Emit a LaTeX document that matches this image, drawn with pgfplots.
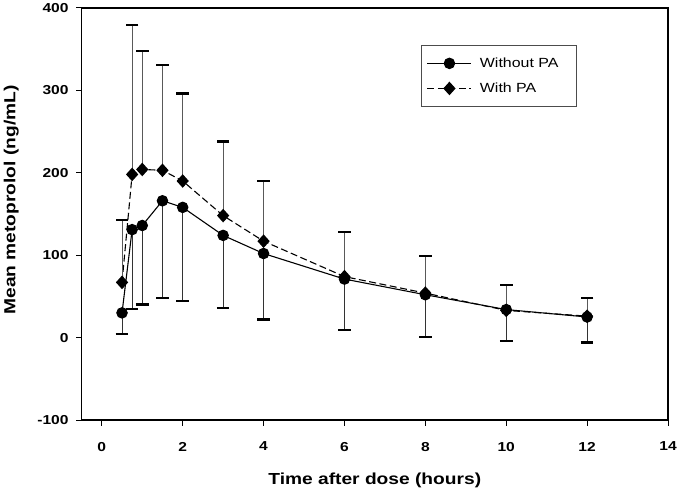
\documentclass[border=0pt]{standalone}
\usepackage{fontspec}
\setmainfont{Liberation Sans}[FakeStretch=1.2]
\usepackage{pgfplots}
\usepackage{pgfplotstable}
\pgfplotsset{compat=1.18}

\pgfdeclareplotmark{cap}{%
  \pgfsetlinewidth{2.3pt}%
  \pgfpathmoveto{\pgfqpoint{-\pgfplotmarksize}{0pt}}%
  \pgfpathlineto{\pgfqpoint{\pgfplotmarksize}{0pt}}%
  \pgfusepathqstroke}

\pgfplotstableread{
t y e
0.5 30 26
0.75 131 96
1 136 96
1.5 166 118
2 158 114
3 124 88
4 102 80
6 71 62
8 52 51
10 34 38
12 25 31
}\withoutpa

\pgfplotstableread{
t y e
0.5 67 76
0.75 198 181
1 204 144
1.5 203 128
2 190 106
3 148 90
4 117 73
6 74 54
8 54 45
10 33 31
12 26 22
}\withpa

\begin{document}
\begin{tikzpicture}
\begin{axis}[
  at={(0pt,0pt)}, anchor=south west,
  scale only axis, width=587.3pt, height=412.7pt,
  xmin=-0.5, xmax=14, ymin=-100, ymax=400,
  xtick={0,2,...,14}, ytick={-100,0,...,400},
  tick align=outside, xtick pos=bottom, ytick pos=left,
  major tick length=5.5pt,
  axis line style={line width=1.3pt},
  every tick/.style={line width=1pt, black},
  tick label style={font=\fontsize{13}{13}\selectfont\bfseries},
  xticklabel style={yshift=-13pt},
  yticklabel style={xshift=-4pt},
  /pgf/number format/assume math mode=true,
  xlabel={Time after dose (hours)},
  ylabel={Mean metoprolol (ng/mL)},
  every axis x label/.style={at={(axis description cs:0.5,-0.1575)}, anchor=base,
    font=\fontsize{16}{16}\selectfont\bfseries},
  every axis y label/.style={at={(axis description cs:-0.1127,0.534)}, anchor=base, rotate=90,
    font=\fontsize{16}{16}\selectfont\bfseries},
  legend style={at={(axis description cs:0.578,0.909)}, anchor=north west,
    draw=black!70, line width=0.8pt, font=\fontsize{13.3}{13.3}\selectfont,
    row sep=10pt, inner xsep=6pt, inner ysep=10pt},
  legend cell align=left,
  legend image code/.code={\draw[mark repeat=2,mark phase=2,#1] plot coordinates {(0pt,0pt)(22pt,0pt)(44pt,0pt)};},
]
\addplot[black, line width=1.1pt, mark=*, mark size=5.2pt, mark options={solid},
  error bars/.cd, y dir=minus, y explicit, error mark=cap,
  error bar style={line width=0.9pt, black!80},
  error mark options={rotate=90, mark size=6.3pt, black}]
  table[x=t, y=y, y error=e]{\withoutpa};
\addlegendentry{\makebox[95pt][l]{\hspace*{6pt}Without PA}}
\addplot[black, line width=1.1pt, dash pattern=on 7pt off 3.5pt, mark=diamond*, mark size=6pt, mark options={solid, xscale=1.2},
  error bars/.cd, y dir=plus, y explicit, error mark=cap,
  error bar style={line width=0.9pt, black!65, solid},
  error mark options={rotate=90, mark size=6.3pt, black, solid}]
  table[x=t, y=y, y error=e]{\withpa};
\addlegendentry{\makebox[95pt][l]{\hspace*{6pt}With PA}}
\end{axis}
\path[use as bounding box] (-81.7pt,-72pt) rectangle (598.3pt,420pt);
\end{tikzpicture}
\end{document}
